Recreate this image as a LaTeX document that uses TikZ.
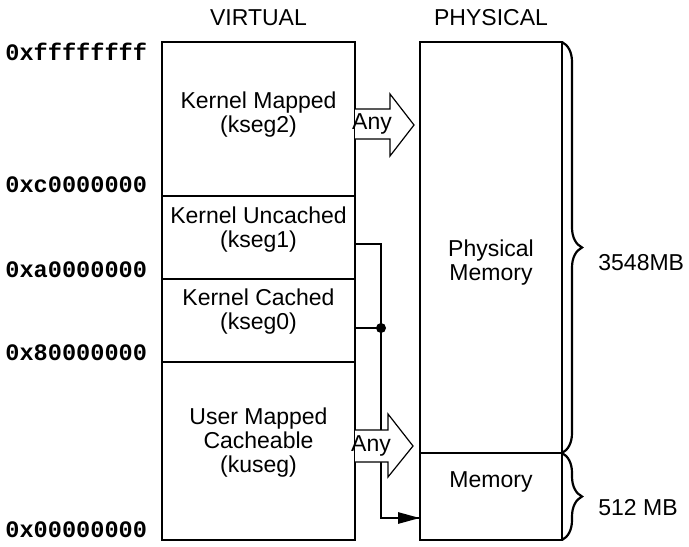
\documentclass[tikz,border=0pt]{standalone}
\usepackage{fontspec}
\setmainfont{Liberation Sans}
\newfontfamily\addrfont{Liberation Mono}
\usetikzlibrary{arrows.meta,decorations.pathreplacing}
\begin{document}
\begin{tikzpicture}[x=0.5pt,y=-0.5pt,
  txt/.style={font=\fontsize{11.5}{12}\selectfont,align=center,inner sep=0pt},
  addr/.style={font=\addrfont\bfseries\fontsize{11.8}{12}\selectfont,anchor=west,inner sep=0pt},
  box/.style={draw,line width=0.6pt},
  divider/.style={line width=0.8pt},
  route/.style={line width=1.4pt},
  hollow/.style={draw,fill=white,line width=0.6pt,line join=miter},
  bracestyle/.style={line width=1.1pt,decorate,decoration={brace,amplitude=10pt,aspect=0.5}}]
\useasboundingbox (0,0) rectangle (689,546);
% coordinates
\coordinate (vtl) at (162,42);
\coordinate (vbr) at (355,540);
\coordinate (ptl) at (420,42);
\coordinate (pbr) at (562,540);
\coordinate (pmid) at (562,453);
% titles
\node[txt] (vt) at (258.5,18) {VIRTUAL};
\node[txt] (pt) at (491,18) {PHYSICAL};
% address labels
\node[addr] (a1) at (5,52) {0xffffffff};
\node[addr] (a2) at (5,185) {0xc0000000};
\node[addr] (a3) at (5,270) {0xa0000000};
\node[addr] (a4) at (5,353) {0x80000000};
\node[addr] (a5) at (5,530) {0x00000000};
% boxes
\draw[box] (vtl) rectangle (vbr);
\draw[box] (ptl) rectangle (pbr);
\draw[divider] (162,196) -- (355,196);
\draw[divider] (162,279) -- (355,279);
\draw[divider] (162,362) -- (355,362);
\draw[divider] (420,453) -- (pmid);
% box texts
\node[txt] (k2) at (258.5,115) {Kernel Mapped\\(kseg2)};
\node[txt] (k1) at (258.5,230) {Kernel Uncached\\(kseg1)};
\node[txt] (k0) at (258.5,312) {Kernel Cached\\(kseg0)};
\node[txt] (ku) at (258.5,443) {User Mapped\\Cacheable\\(kuseg)};
\node[txt] (pm) at (491,263) {Physical\\Memory};
\node[txt] (m) at (491,482) {Memory};
% routing lines
\coordinate (r1) at (355,244);
\coordinate (r2) at (381,244);
\coordinate (jn) at (381,328);
\coordinate (r0) at (355,328);
\coordinate (r3) at (381,518);
\coordinate (r4) at (420,518);
\draw[route] (r1) -- (r2) -- (r3) -- (r4);
\draw[route,-{Triangle[length=11pt,width=5.5pt]}] (r3) -- (r4);
\draw[route] (r0) -- (jn);
\fill (jn) circle (5);
% hollow arrows
\draw[hollow] (355,109) -- (390,109) -- (390,94) -- (414,125) -- (390,156) -- (390,139) -- (355,139);
\node[txt,font=\fontsize{11.5}{12}\selectfont] (any1) at (372,124) {Any};
\draw[hollow] (355,430) -- (388,430) -- (388,414) -- (413,446) -- (388,477) -- (388,462) -- (355,462);
\node[txt,font=\fontsize{11.5}{12}\selectfont] (any2) at (371,446) {Any};
% braces
\draw[bracestyle] (562,42) -- (562,453);
\draw[bracestyle] (562,453) -- (562,540);
\node[txt,anchor=west] (s1) at (598,263) {3548MB};
\node[txt,anchor=west] (s2) at (598,508) {512 MB};
\end{tikzpicture}
\end{document}
